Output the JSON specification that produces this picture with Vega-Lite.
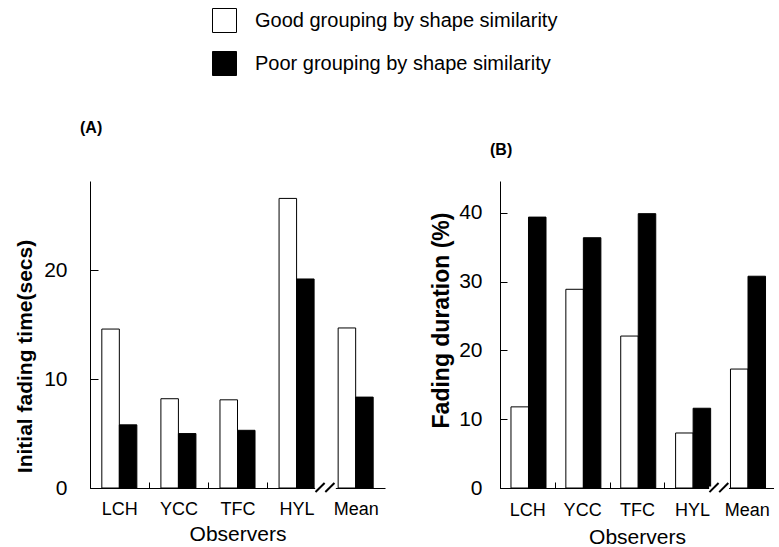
{
  "$schema": "https://vega.github.io/schema/vega-lite/v6.json",
  "background": "white",
  "padding": {"left": 14, "top": 8, "right": 0, "bottom": 0},
  "bounds": "flush",
  "spacing": 115,
  "config": {
    "font": "Liberation Sans",
    "view": {"stroke": null},
    "axis": {"grid": false, "domainColor": "black", "tickColor": "black", "labelColor": "black", "titleColor": "black", "labelFont": "Liberation Sans", "titleFont": "Liberation Sans", "domainWidth": 1, "tickWidth": 1},
    "legend": {"labelFont": "Liberation Sans", "labelColor": "black", "labelLimit": 0}
  },
  "datasets": {
    "A": [
      {"observer": "LCH", "group": "Good grouping by shape similarity", "value": 14.6},
      {"observer": "LCH", "group": "Poor grouping by shape similarity", "value": 5.8},
      {"observer": "YCC", "group": "Good grouping by shape similarity", "value": 8.2},
      {"observer": "YCC", "group": "Poor grouping by shape similarity", "value": 5.0},
      {"observer": "TFC", "group": "Good grouping by shape similarity", "value": 8.1},
      {"observer": "TFC", "group": "Poor grouping by shape similarity", "value": 5.3},
      {"observer": "HYL", "group": "Good grouping by shape similarity", "value": 26.6},
      {"observer": "HYL", "group": "Poor grouping by shape similarity", "value": 19.2},
      {"observer": "Mean", "group": "Good grouping by shape similarity", "value": 14.7},
      {"observer": "Mean", "group": "Poor grouping by shape similarity", "value": 8.35}
    ],
    "B": [
      {"observer": "LCH", "group": "Good grouping by shape similarity", "value": 11.8},
      {"observer": "LCH", "group": "Poor grouping by shape similarity", "value": 39.4},
      {"observer": "YCC", "group": "Good grouping by shape similarity", "value": 28.9},
      {"observer": "YCC", "group": "Poor grouping by shape similarity", "value": 36.4},
      {"observer": "TFC", "group": "Good grouping by shape similarity", "value": 22.1},
      {"observer": "TFC", "group": "Poor grouping by shape similarity", "value": 39.9},
      {"observer": "HYL", "group": "Good grouping by shape similarity", "value": 8.0},
      {"observer": "HYL", "group": "Poor grouping by shape similarity", "value": 11.6},
      {"observer": "Mean", "group": "Good grouping by shape similarity", "value": 17.3},
      {"observer": "Mean", "group": "Poor grouping by shape similarity", "value": 30.8}
    ],
    "one": [{"mark": "break"}]
  },
  "hconcat": [
    {
      "width": 295,
      "height": 307,
      "title": {"text": "(A)", "anchor": "start", "frame": "group", "dx": -10, "offset": 45, "fontSize": 16, "fontWeight": "bold", "color": "black"},
      "layer": [
        {
          "data": {"name": "A"},
          "mark": {"type": "bar", "stroke": "black", "strokeWidth": 1},
          "encoding": {
            "x": {
              "field": "observer", "type": "nominal", "sort": ["LCH", "YCC", "TFC", "HYL", "Mean"],
              "scale": {"paddingInner": 0.407, "paddingOuter": 0.2},
              "axis": {"title": "Observers", "titleFontSize": 21, "titleFontWeight": "normal", "titlePadding": 5, "labelAngle": 0, "labelFontSize": 18, "tickSize": -6, "labelPadding": 18, "tickOffset": -29.54, "labelOffset": 29.54, "tickOpacity": {"condition": {"test": "datum.value === 'Mean'", "value": 0}, "value": 1}}
            },
            "xOffset": {"field": "group", "type": "nominal", "sort": ["Good grouping by shape similarity", "Poor grouping by shape similarity"]},
            "y": {
              "field": "value", "type": "quantitative",
              "scale": {"domain": [0, 28.2], "nice": false},
              "axis": {"title": "Initial fading time(secs)", "titleFontSize": 21, "titleFontWeight": "bold", "titlePadding": 8, "values": [0, 10, 20], "tickSize": -8, "labelPadding": 31, "labelFontSize": 21, "titleY": 175}
            },
            "fill": {
              "field": "group", "type": "nominal",
              "scale": {"domain": ["Good grouping by shape similarity", "Poor grouping by shape similarity"], "range": ["white", "black"]},
              "legend": {"orient": "none", "legendX": 122, "legendY": -173, "title": null, "direction": "vertical", "symbolType": "square", "symbolSize": 576, "symbolStrokeColor": "black", "symbolStrokeWidth": 1, "labelFontSize": 20, "labelOffset": 18, "rowPadding": 14, "labelLimit": 0}
            }
          }
        },
        {
          "data": {"name": "one"},
          "mark": {"type": "rule", "color": "white", "strokeWidth": 3},
          "encoding": {
            "x": {"datum": "HYL", "bandPosition": 1.03},
            "x2": {"datum": "HYL", "bandPosition": 1.62},
            "y": {"datum": 0}
          }
        },
        {
          "data": {"name": "one"},
          "mark": {"type": "rule", "color": "black", "strokeWidth": 2},
          "encoding": {
            "x": {"datum": "HYL", "bandPosition": 1.04},
            "x2": {"datum": "HYL", "bandPosition": 1.3},
            "y": {"datum": -0.37},
            "y2": {"datum": 0.46}
          }
        },
        {
          "data": {"name": "one"},
          "mark": {"type": "rule", "color": "black", "strokeWidth": 2},
          "encoding": {
            "x": {"datum": "HYL", "bandPosition": 1.32},
            "x2": {"datum": "HYL", "bandPosition": 1.58},
            "y": {"datum": -0.37},
            "y2": {"datum": 0.46}
          }
        }
      ]
    },
    {
      "width": 274,
      "height": 307,
      "title": {"text": "(B)", "anchor": "start", "frame": "group", "dx": -10, "offset": 23, "fontSize": 16, "fontWeight": "bold", "color": "black"},
      "layer": [
        {
          "data": {"name": "B"},
          "mark": {"type": "bar", "stroke": "black", "strokeWidth": 1},
          "encoding": {
            "x": {
              "field": "observer", "type": "nominal", "sort": ["LCH", "YCC", "TFC", "HYL", "Mean"],
              "scale": {"paddingInner": 0.407, "paddingOuter": 0.2},
              "axis": {"title": "Observers", "titleFontSize": 21, "titleFontWeight": "normal", "titlePadding": 7, "labelAngle": 0, "labelFontSize": 18, "tickSize": -6, "labelPadding": 19, "tickOffset": -27.44, "labelOffset": 27.44, "tickOpacity": {"condition": {"test": "datum.value === 'Mean'", "value": 0}, "value": 1}}
            },
            "xOffset": {"field": "group", "type": "nominal", "sort": ["Good grouping by shape similarity", "Poor grouping by shape similarity"]},
            "y": {
              "field": "value", "type": "quantitative",
              "scale": {"domain": [0, 44.65], "nice": false},
              "axis": {"title": "Fading duration (%)", "titleFontSize": 23, "titleFontWeight": "bold", "titlePadding": 5, "values": [0, 10, 20, 30, 40], "tickSize": -7, "labelPadding": 25, "labelFontSize": 21, "titleY": 139}
            },
            "fill": {
              "field": "group", "type": "nominal",
              "scale": {"domain": ["Good grouping by shape similarity", "Poor grouping by shape similarity"], "range": ["white", "black"]},
              "legend": {"orient": "none", "legendX": 122, "legendY": -173, "title": null, "direction": "vertical", "symbolType": "square", "symbolSize": 576, "symbolStrokeColor": "black", "symbolStrokeWidth": 1, "labelFontSize": 20, "labelOffset": 18, "rowPadding": 14, "labelLimit": 0}
            }
          }
        },
        {
          "data": {"name": "one"},
          "mark": {"type": "rule", "color": "white", "strokeWidth": 3},
          "encoding": {
            "x": {"datum": "HYL", "bandPosition": 1.03},
            "x2": {"datum": "HYL", "bandPosition": 1.64},
            "y": {"datum": 0}
          }
        },
        {
          "data": {"name": "one"},
          "mark": {"type": "rule", "color": "black", "strokeWidth": 2},
          "encoding": {
            "x": {"datum": "HYL", "bandPosition": 1.04},
            "x2": {"datum": "HYL", "bandPosition": 1.32},
            "y": {"datum": -0.6},
            "y2": {"datum": 0.73}
          }
        },
        {
          "data": {"name": "one"},
          "mark": {"type": "rule", "color": "black", "strokeWidth": 2},
          "encoding": {
            "x": {"datum": "HYL", "bandPosition": 1.34},
            "x2": {"datum": "HYL", "bandPosition": 1.62},
            "y": {"datum": -0.6},
            "y2": {"datum": 0.73}
          }
        }
      ]
    }
  ]
}
